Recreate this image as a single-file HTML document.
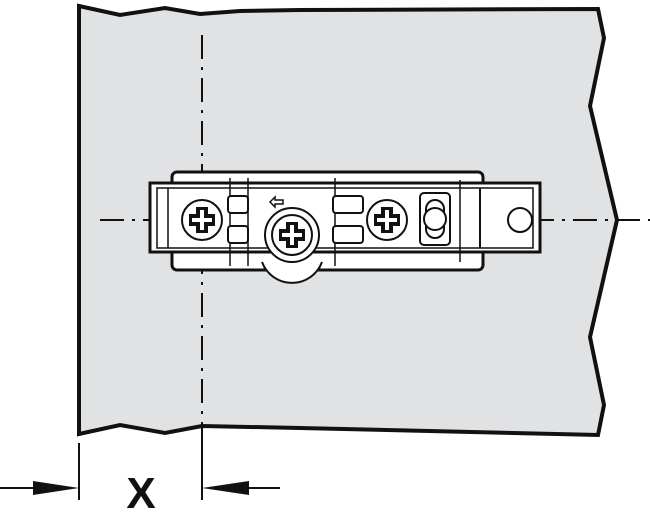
<!DOCTYPE html>
<html><head><style>html,body{margin:0;padding:0;background:#fff}</style></head><body>
<svg width="650" height="508" viewBox="0 0 650 508" xmlns="http://www.w3.org/2000/svg">
<polygon points="79,6 120,15 165,8 200,14 240,11 300,10 598,9 604,38 590,106 617,220 590,337 604,405 598,435 300,428 202,426 165,433 120,425 79,434" fill="#e1e2e4" stroke="#111" stroke-width="4" stroke-linejoin="miter"/>
<line x1="202" y1="35" x2="202" y2="428" stroke="#111" stroke-width="2" stroke-dasharray="24,8,3,8"/>
<line x1="100" y1="220" x2="650" y2="220" stroke="#111" stroke-width="2" stroke-dasharray="24,8,3,8"/>
<g stroke="#111" fill="#fff" stroke-width="2">
<rect x="172" y="172" width="311" height="98" rx="5" stroke-width="3"/>
<rect x="150" y="183" width="390" height="69" stroke-width="3"/>
<rect x="157" y="188" width="376" height="60" stroke-width="1.5"/>
<line x1="168" y1="188" x2="168" y2="248" stroke-width="1.5"/>
<line x1="230" y1="178" x2="230" y2="266" stroke-width="1.5"/>
<line x1="248" y1="178" x2="248" y2="266" stroke-width="1.5"/>
<line x1="335" y1="178" x2="335" y2="266" stroke-width="1.5"/>
<line x1="460" y1="180" x2="460" y2="262" stroke-width="1.5"/>
<line x1="480" y1="188" x2="480" y2="248"/>
<rect x="420" y="193" width="30" height="52" rx="4"/>
<rect x="426" y="200" width="18" height="38" rx="9"/>
<circle cx="435" cy="219" r="11"/>
<circle cx="520" cy="220" r="12"/>
<rect x="228" y="196" width="20" height="17" rx="3"/>
<rect x="228" y="226" width="20" height="17" rx="3"/>
<rect x="333" y="196" width="30" height="17" rx="3"/>
<rect x="333" y="226" width="30" height="17" rx="3"/>
<circle cx="202" cy="220" r="20"/>
<circle cx="387" cy="220" r="20"/>
<path d="M262,262 A32,32 0 0 0 322,262" />
<circle cx="292" cy="235" r="27"/>
<circle cx="292" cy="235" r="20"/>
</g>
<g fill="#111">
<rect x="196" y="207" width="12" height="26"/><rect x="189" y="214" width="26" height="12"/>
<rect x="381" y="207" width="12" height="26"/><rect x="374" y="214" width="26" height="12"/>
<rect x="286" y="222" width="12" height="26"/><rect x="279" y="229" width="26" height="12"/>
</g>
<g fill="#fff"><rect x="200" y="210" width="4" height="20"/><rect x="192" y="218" width="20" height="4"/>
<rect x="385" y="210" width="4" height="20"/><rect x="377" y="218" width="20" height="4"/>
<rect x="290" y="225" width="4" height="20"/><rect x="282" y="233" width="20" height="4"/></g>
<path d="M270,202 l5,-5 v3 h8 v4 h-8 v3 z" fill="none" stroke="#111" stroke-width="1.5"/>
<line x1="79" y1="443" x2="79" y2="500" stroke="#111" stroke-width="2"/>
<line x1="202" y1="428" x2="202" y2="500" stroke="#111" stroke-width="2"/>
<line x1="0" y1="488" x2="40" y2="488" stroke="#111" stroke-width="2"/>
<polygon points="33,481 79,488 33,495" fill="#111"/>
<line x1="240" y1="488" x2="280" y2="488" stroke="#111" stroke-width="2"/>
<polygon points="249,481 202,488 249,495" fill="#111"/>
<text x="141" y="508" text-anchor="middle" font-family="Liberation Sans, sans-serif" font-weight="bold" font-size="44" fill="#111">X</text>
</svg>
</body></html>
